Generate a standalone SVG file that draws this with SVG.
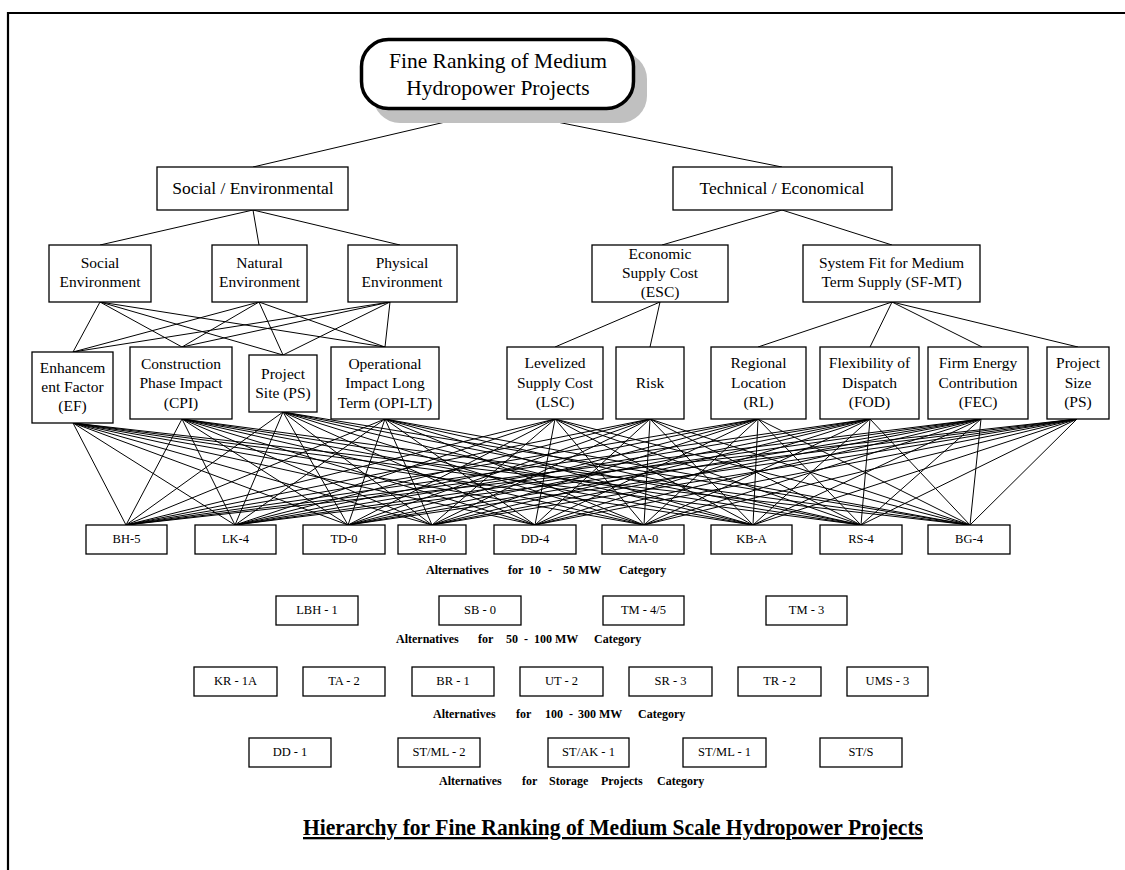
<svg xmlns="http://www.w3.org/2000/svg" width="1125" height="870" viewBox="0 0 1125 870">
<style>
  .box { fill: #ffffff; stroke: #000000; stroke-width: 1.3; }
  .t { font-family: "Liberation Serif", "Times New Roman", serif; fill: #000000; text-anchor: middle; }
  .root { font-size: 21.5px; }
  .l2 { font-size: 17.5px; }
  .l3 { font-size: 15.5px; }
  .alt { font-size: 12.5px; }
  .cap { font-family: "Liberation Serif", "Times New Roman", serif; font-weight: bold; font-size: 12px; fill: #000000; }
  .ln { fill: none; stroke: #000000; stroke-width: 1; }
</style>
<rect x="0" y="0" width="1125" height="870" fill="#ffffff"/>
<path d="M8 870V13H1125" fill="none" stroke="#000000" stroke-width="2.2"/>

<g id="connectors">
  <path class="ln" d="M488 112L253 167M507 112L782 167"/>
  <path class="ln" d="M253 210L100 245M253 210L259 245M253 210L400 245"/>
  <path class="ln" d="M782 210L662 245M782 210L892 245"/>
  <path class="ln" d="M100 302L73 352M100 302L182 347M100 302L283 355M100 302L385 347"/>
  <path class="ln" d="M259 302L73 352M259 302L182 347M259 302L283 355M259 302L385 347"/>
  <path class="ln" d="M390 302L73 352M390 302L182 347M390 302L283 355M390 302L385 347"/>
  <path class="ln" d="M660 302L555 347M660 302L650 347"/>
  <path class="ln" d="M892 302L758 347M892 302L870 347M892 302L982 347M892 302L1078 347"/>
  <path class="ln" d="M73 423L126 525M73 423L235 525M73 423L348 525M73 423L432 525M73 423L535 525M73 423L644 525M73 423L753 525M73 423L861 525M73 423L970 525"/>
  <path class="ln" d="M182 419L126 525M182 419L235 525M182 419L348 525M182 419L432 525M182 419L535 525M182 419L644 525M182 419L753 525M182 419L861 525M182 419L970 525"/>
  <path class="ln" d="M283 412L126 525M283 412L235 525M283 412L348 525M283 412L432 525M283 412L535 525M283 412L644 525M283 412L753 525M283 412L861 525M283 412L970 525"/>
  <path class="ln" d="M385 419L126 525M385 419L235 525M385 419L348 525M385 419L432 525M385 419L535 525M385 419L644 525M385 419L753 525M385 419L861 525M385 419L970 525"/>
  <path class="ln" d="M555 419L126 525M555 419L235 525M555 419L348 525M555 419L432 525M555 419L535 525M555 419L644 525M555 419L753 525M555 419L861 525M555 419L970 525"/>
  <path class="ln" d="M650 419L126 525M650 419L235 525M650 419L348 525M650 419L432 525M650 419L535 525M650 419L644 525M650 419L753 525M650 419L861 525M650 419L970 525"/>
  <path class="ln" d="M758 419L126 525M758 419L235 525M758 419L348 525M758 419L432 525M758 419L535 525M758 419L644 525M758 419L753 525M758 419L861 525M758 419L970 525"/>
  <path class="ln" d="M870 419L126 525M870 419L235 525M870 419L348 525M870 419L432 525M870 419L535 525M870 419L644 525M870 419L753 525M870 419L861 525M870 419L970 525"/>
  <path class="ln" d="M981 419L126 525M981 419L235 525M981 419L348 525M981 419L432 525M981 419L535 525M981 419L644 525M981 419L753 525M981 419L861 525M981 419L970 525"/>
  <path class="ln" d="M1077 419L126 525M1077 419L235 525M1077 419L348 525M1077 419L432 525M1077 419L535 525M1077 419L644 525M1077 419L753 525M1077 419L861 525M1077 419L970 525"/>
</g>

<g id="root">
  <rect x="373" y="52" width="274" height="71" rx="27" ry="27" fill="#c0c0c0"/>
  <rect x="361.5" y="39.5" width="272" height="69" rx="27" ry="27" fill="#ffffff" stroke="#000000" stroke-width="3.5"/>
  <text class="t root" x="498" y="68">Fine Ranking of Medium</text>
  <text class="t root" x="498" y="95">Hydropower Projects</text>
</g>

<g id="social-environmental">
  <rect class="box" x="157" y="167" width="191" height="43"/>
  <text class="t l2" x="253" y="194">Social / Environmental</text>
</g>
<g id="technical-economical">
  <rect class="box" x="673" y="167" width="219" height="43"/>
  <text class="t l2" x="782" y="194">Technical / Economical</text>
</g>

<g id="social-environment">
  <rect class="box" x="49" y="245" width="102" height="57"/>
  <text class="t l3" x="100" y="268">Social</text>
  <text class="t l3" x="100" y="287">Environment</text>
</g>
<g id="natural-environment">
  <rect class="box" x="212" y="245" width="95" height="57"/>
  <text class="t l3" x="259.5" y="268">Natural</text>
  <text class="t l3" x="259.5" y="287">Environment</text>
</g>
<g id="physical-environment">
  <rect class="box" x="348" y="245" width="109" height="57"/>
  <text class="t l3" x="402" y="268">Physical</text>
  <text class="t l3" x="402" y="287">Environment</text>
</g>
<g id="esc">
  <rect class="box" x="592" y="245" width="136" height="57"/>
  <text class="t l3" x="660" y="259">Economic</text>
  <text class="t l3" x="660" y="278">Supply Cost</text>
  <text class="t l3" x="660" y="297">(ESC)</text>
</g>
<g id="sf-mt">
  <rect class="box" x="803" y="245" width="177" height="57"/>
  <text class="t l3" x="891.5" y="268">System Fit for Medium</text>
  <text class="t l3" x="891.5" y="287">Term Supply (SF-MT)</text>
</g>

<g id="ef">
  <rect class="box" x="32" y="352" width="81" height="71"/>
  <text class="t l3" x="72.5" y="373">Enhancem</text>
  <text class="t l3" x="72.5" y="392">ent Factor</text>
  <text class="t l3" x="72.5" y="411">(EF)</text>
</g>
<g id="cpi">
  <rect class="box" x="130" y="347" width="102" height="72"/>
  <text class="t l3" x="181" y="369">Construction</text>
  <text class="t l3" x="181" y="388">Phase Impact</text>
  <text class="t l3" x="181" y="408">(CPI)</text>
</g>
<g id="ps-site">
  <rect class="box" x="249" y="355" width="68" height="57"/>
  <text class="t l3" x="283" y="379">Project</text>
  <text class="t l3" x="283" y="398">Site (PS)</text>
</g>
<g id="opi-lt">
  <rect class="box" x="331" y="347" width="108" height="72"/>
  <text class="t l3" x="385" y="369">Operational</text>
  <text class="t l3" x="385" y="388">Impact Long</text>
  <text class="t l3" x="385" y="408">Term (OPI-LT)</text>
</g>
<g id="lsc">
  <rect class="box" x="507" y="347" width="96" height="72"/>
  <text class="t l3" x="555" y="368">Levelized</text>
  <text class="t l3" x="555" y="388">Supply Cost</text>
  <text class="t l3" x="555" y="407">(LSC)</text>
</g>
<g id="risk">
  <rect class="box" x="616" y="347" width="68" height="72"/>
  <text class="t l3" x="650" y="388">Risk</text>
</g>
<g id="rl">
  <rect class="box" x="711" y="347" width="95" height="72"/>
  <text class="t l3" x="758.5" y="368">Regional</text>
  <text class="t l3" x="758.5" y="388">Location</text>
  <text class="t l3" x="758.5" y="407">(RL)</text>
</g>
<g id="fod">
  <rect class="box" x="820" y="347" width="99" height="72"/>
  <text class="t l3" x="869.5" y="368">Flexibility of</text>
  <text class="t l3" x="869.5" y="388">Dispatch</text>
  <text class="t l3" x="869.5" y="407">(FOD)</text>
</g>
<g id="fec">
  <rect class="box" x="928" y="347" width="100" height="72"/>
  <text class="t l3" x="978" y="368">Firm Energy</text>
  <text class="t l3" x="978" y="388">Contribution</text>
  <text class="t l3" x="978" y="407">(FEC)</text>
</g>
<g id="ps-size">
  <rect class="box" x="1047" y="347" width="62" height="72"/>
  <text class="t l3" x="1078" y="368">Project</text>
  <text class="t l3" x="1078" y="388">Size</text>
  <text class="t l3" x="1078" y="407">(PS)</text>
</g>

<g id="bh-5"><rect class="box" x="86" y="525" width="81" height="29"/><text class="t alt" x="126.5" y="543">BH-5</text></g>
<g id="lk-4"><rect class="box" x="195" y="525" width="81" height="29"/><text class="t alt" x="235.5" y="543">LK-4</text></g>
<g id="td-0"><rect class="box" x="303" y="525" width="82" height="29"/><text class="t alt" x="344" y="543">TD-0</text></g>
<g id="rh-0"><rect class="box" x="398" y="525" width="68" height="29"/><text class="t alt" x="432" y="543">RH-0</text></g>
<g id="dd-4"><rect class="box" x="494" y="525" width="82" height="29"/><text class="t alt" x="535" y="543">DD-4</text></g>
<g id="ma-0"><rect class="box" x="602" y="525" width="82" height="29"/><text class="t alt" x="643" y="543">MA-0</text></g>
<g id="kb-a"><rect class="box" x="711" y="525" width="81" height="29"/><text class="t alt" x="751.5" y="543">KB-A</text></g>
<g id="rs-4"><rect class="box" x="820" y="525" width="82" height="29"/><text class="t alt" x="861" y="543">RS-4</text></g>
<g id="bg-4"><rect class="box" x="928" y="525" width="82" height="29"/><text class="t alt" x="969" y="543">BG-4</text></g>
<text class="cap" y="574"><tspan x="426">Alternatives</tspan><tspan x="508">for</tspan><tspan x="529">10</tspan><tspan x="548">-</tspan><tspan x="563">50 MW</tspan><tspan x="619">Category</tspan></text>

<g id="lbh-1"><rect class="box" x="276" y="596" width="82" height="29"/><text class="t alt" x="317" y="614">LBH - 1</text></g>
<g id="sb-0"><rect class="box" x="439" y="596" width="82" height="29"/><text class="t alt" x="480" y="614">SB - 0</text></g>
<g id="tm-45"><rect class="box" x="603" y="596" width="81" height="29"/><text class="t alt" x="643.5" y="614">TM - 4/5</text></g>
<g id="tm-3"><rect class="box" x="766" y="596" width="81" height="29"/><text class="t alt" x="806.5" y="614">TM - 3</text></g>
<text class="cap" y="643"><tspan x="396">Alternatives</tspan><tspan x="478">for</tspan><tspan x="506">50</tspan><tspan x="524">-</tspan><tspan x="534">100 MW</tspan><tspan x="594">Category</tspan></text>

<g id="kr-1a"><rect class="box" x="194" y="667" width="83" height="29"/><text class="t alt" x="235.5" y="685">KR - 1A</text></g>
<g id="ta-2"><rect class="box" x="303" y="667" width="82" height="29"/><text class="t alt" x="344" y="685">TA - 2</text></g>
<g id="br-1"><rect class="box" x="412" y="667" width="82" height="29"/><text class="t alt" x="453" y="685">BR - 1</text></g>
<g id="ut-2"><rect class="box" x="520" y="667" width="83" height="29"/><text class="t alt" x="561.5" y="685">UT - 2</text></g>
<g id="sr-3"><rect class="box" x="629" y="667" width="83" height="29"/><text class="t alt" x="670.5" y="685">SR - 3</text></g>
<g id="tr-2"><rect class="box" x="738" y="667" width="83" height="29"/><text class="t alt" x="779.5" y="685">TR - 2</text></g>
<g id="ums-3"><rect class="box" x="847" y="667" width="81" height="29"/><text class="t alt" x="887.5" y="685">UMS - 3</text></g>
<text class="cap" y="718"><tspan x="433">Alternatives</tspan><tspan x="516">for</tspan><tspan x="545">100</tspan><tspan x="569">-</tspan><tspan x="578">300 MW</tspan><tspan x="638">Category</tspan></text>

<g id="dd-1"><rect class="box" x="249" y="738" width="82" height="29"/><text class="t alt" x="290" y="756">DD - 1</text></g>
<g id="st-ml-2"><rect class="box" x="398" y="738" width="82" height="29"/><text class="t alt" x="439" y="756">ST/ML - 2</text></g>
<g id="st-ak-1"><rect class="box" x="548" y="738" width="81" height="29"/><text class="t alt" x="588.5" y="756">ST/AK - 1</text></g>
<g id="st-ml-1"><rect class="box" x="683" y="738" width="83" height="29"/><text class="t alt" x="724.5" y="756">ST/ML - 1</text></g>
<g id="st-s"><rect class="box" x="820" y="738" width="82" height="29"/><text class="t alt" x="861" y="756">ST/S</text></g>
<text class="cap" y="785"><tspan x="439">Alternatives</tspan><tspan x="522">for</tspan><tspan x="549">Storage</tspan><tspan x="601">Projects</tspan><tspan x="657">Category</tspan></text>

<text x="303" y="835" font-family="Liberation Serif, Times New Roman, serif" font-weight="bold" font-size="23" text-decoration="underline" textLength="620" lengthAdjust="spacingAndGlyphs">Hierarchy for Fine Ranking of Medium Scale Hydropower Projects</text>
</svg>
